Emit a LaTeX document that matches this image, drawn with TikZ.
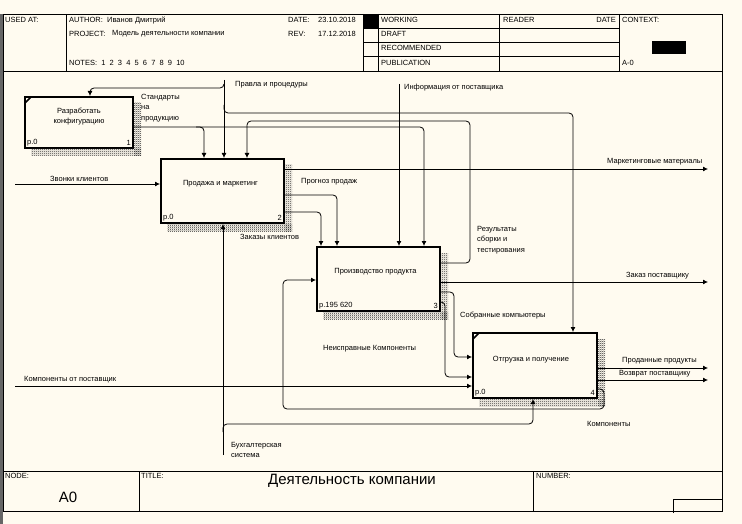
\documentclass[tikz,border=0pt]{standalone}
\usepackage{fontspec}
\setmainfont{Liberation Sans}
\usetikzlibrary{arrows.meta,calc,patterns.meta}
\definecolor{paper}{RGB}{255,251,240}
\tikzdeclarepattern{
  name=idefhatch,
  type=uncolored,
  bounding box={(0pt,0pt) and (2pt,2pt)},
  tile size={(2pt,2pt)},
  code={
    \pgfpathrectangle{\pgfpointorigin}{\pgfpoint{1pt}{1pt}}
    \pgfpathrectangle{\pgfpoint{1pt}{1pt}}{\pgfpoint{1pt}{1pt}}
    \pgfusepath{fill}
  }
}
\newcommand{\boxshadow}[1]{%
  \fill[pattern=idefhatch,pattern color=black!80] ($(#1.south west)+(7,0)$) rectangle ($(#1.south east)+(7,7)$);
  \fill[pattern=idefhatch,pattern color=black!80] ($(#1.north east)+(0,7)$) rectangle ($(#1.south east)+(7,7)$);}

\begin{document}
\begin{tikzpicture}[x=1pt,y=-1pt,font=\fontsize{7.5}{10.5}\selectfont,
  frm/.style={line width=0.8pt},
  fn/.style={draw,line width=2pt,fill=paper,inner sep=0pt},
  tag/.style={inner sep=1pt},
  lbl/.style={anchor=west,inner sep=0pt},
  mlbl/.style={anchor=north west,inner sep=0pt,align=left},
  big/.style={inner sep=0pt,font=\fontsize{15}{18}\selectfont},
  conn/.style={line width=0.8pt,rounded corners=4pt},
  arr/.style={conn,-{Latex[length=5pt,width=5pt]}}]
\useasboundingbox (0,0) rectangle (742,524);
\fill[paper] (0,0) rectangle (742,524);
\fill[black!60] (0,14) rectangle (2.5,524);

% header
\draw[frm] (3,14) rectangle (722,71);
\foreach \x in {66,363,378,499,619} \draw[frm] (\x,14) -- (\x,71);
\foreach \y in {28,42.5,56.5} \draw[frm] (363,\y) -- (619,\y);
\fill (363,14) rectangle (378,28);
\fill (652,41) rectangle (686,54);
\node[lbl] (usedat) at (5,20) {USED AT:};
\node[lbl] (author) at (69,20) {AUTHOR:};
\node[lbl] (authorv) at (107,20) {Иванов Дмитрий};
\node[lbl] (project) at (69,34) {PROJECT:};
\node[lbl] (projectv) at (112,34) {Модель деятельности компании};
\node[lbl] (notes) at (69,63) {NOTES:\ \ 1\ \ 2\ \ 3\ \ 4\ \ 5\ \ 6\ \ 7\ \ 8\ \ 9\ \ 10};
\node[lbl] (date) at (288,20) {DATE:};
\node[lbl] (datev) at (318,20) {23.10.2018};
\node[lbl] (rev) at (288,34) {REV:};
\node[lbl] (revv) at (318,34) {17.12.2018};
\node[lbl] (working) at (381,20) {WORKING};
\node[lbl] (draft) at (381,34) {DRAFT};
\node[lbl] (recom) at (381,48) {RECOMMENDED};
\node[lbl] (publ) at (381,63) {PUBLICATION};
\node[lbl] (reader) at (503,20) {READER};
\node[lbl,anchor=east] (rdate) at (616,20) {DATE};
\node[lbl] (context) at (622,20) {CONTEXT:};
\node[lbl] (ctxnode) at (622,63) {A-0};

% frame and footer
\draw[frm] (3,71) -- (3,511) -- (722,511) -- (722,71);
\draw[frm] (3,471) -- (722,471);
\draw[frm] (139,471) -- (139,511);
\draw[frm] (533,471) -- (533,511);
\draw[frm] (673,513) -- (673,499) -- (722,499);
\node[lbl] (nodelbl) at (5,476) {NODE:};
\node[big] (nodev) at (68,497) {A0};
\node[lbl] (titlelbl) at (141,476) {TITLE:};
\node[big] (titlev) at (352,481) {Деятельность компании};
\node[lbl] (numlbl) at (536,476) {NUMBER:};

% function boxes
\node[fn,minimum width=108pt,minimum height=51pt] (b1) at (79,122.5) {};
\node[fn,minimum width=123pt,minimum height=64pt] (b2) at (222.5,191) {};
\node[fn,minimum width=123pt,minimum height=64pt] (b3) at (378.5,279) {};
\node[fn,minimum width=124pt,minimum height=65pt] (b4) at (535,365.5) {};
\foreach \b in {b1,b2,b3,b4} {\boxshadow{\b}}
\draw[line width=1.5pt] ($(b1.north west)+(1,7)$) -- ($(b1.north west)+(7,1)$);
\draw[line width=1.5pt] ($(b4.north west)+(1,7)$) -- ($(b4.north west)+(7,1)$);
\node[align=center] (b1t) at ($(b1.center)+(0,-6)$) {Разработать\\конфигурацию};
\node (b2t) at ($(b2.center)+(-2,-7)$) {Продажа и маркетинг};
\node (b3t) at ($(b3.center)+(-3,-7)$) {Производство продукта};
\node (b4t) at ($(b4.center)+(-4,-6)$) {Отгрузка и получение};
\node[tag,anchor=south west] (b1p) at ($(b1.south west)+(2,-2)$) {p.0};
\node[tag,anchor=south east] (b1n) at ($(b1.south east)+(-2,-2)$) {1};
\node[tag,anchor=south west] (b2p) at ($(b2.south west)+(2,-2)$) {p.0};
\node[tag,anchor=south east] (b2n) at ($(b2.south east)+(-2,-2)$) {2};
\node[tag,anchor=south west] (b3p) at ($(b3.south west)+(2,-2)$) {p.195 620};
\node[tag,anchor=south east] (b3n) at ($(b3.south east)+(-2,-2)$) {3};
\node[tag,anchor=south west] (b4p) at ($(b4.south west)+(2,-2)$) {p.0};
\node[tag,anchor=south east] (b4n) at ($(b4.south east)+(-2,-2)$) {4};

% free ends
\coordinate (inRules) at (224,80);
\coordinate (inInfo) at (399,84);
\coordinate (inCalls) at (15,184);
\coordinate (inSupp) at (15,386);
\coordinate (inAcct) at (223,455);
\coordinate (outMkt) at (708,169);
\coordinate (outOrd) at (708,282);
\coordinate (outSold) at (708,368);
\coordinate (outRet) at (708,380);

% connectors
\draw[arr] (inRules) -- (inRules |- b2.north);
\draw[arr] (inRules |- 0,84) |- (90,88) -- (90,0 |- b1.north);
\draw[arr] (inRules |- 0,105) |- (573,113) -- (573,0 |- b4.north);
\draw[arr] (b1.east |- 0,127) -| (424,0 |- b3.north);
\draw[arr] (196,127) -| (204,0 |- b2.north);
\draw[arr] (b3.east |- 0,263) -| (470,121) -| (247,0 |- b2.north);
\draw[arr] (inInfo) -- (inInfo |- b3.north);
\draw[arr] (b2.east |- outMkt) -- (outMkt);
\draw[arr] (inCalls) -- (b2.west |- inCalls);
\draw[arr] (b2.east |- 0,195) -| (337,0 |- b3.north);
\draw[arr] (b2.east |- 0,212) -| (321,0 |- b3.north);
\draw[arr] (b3.east |- outOrd) -- (outOrd);
\draw[arr] (b3.east |- 0,292) -| (454,357) -- (b4.west |- 0,357);
\draw[arr] (b3.east |- 0,302) -| (445,377) -- (b4.west |- 0,377);
\draw[arr] (inSupp) -- (b4.west |- inSupp);
\draw[arr] (b4.east |- outSold) -- (outSold);
\draw[arr] (b4.east |- outRet) -- (outRet);
\draw[arr] (b4.east |- 0,389) -| (604,409) -| (283,280) -- (b3.west |- 0,280);
\draw[arr] (inAcct) -- (inAcct |- b2.south);
\draw[arr] (inAcct |- 0,432) |- (533,424) -- (533,0 |- b4.south);

% arrow labels
\node[lbl] (lRules) at (235,85) {Правла и процедуры};
\node[mlbl] (lStd) at (141,94) {Стандарты\\на\\продукцию};
\node[lbl] (lInfo) at (404,88) {Информация от поставщика};
\node[lbl] (lMkt) at (607,162) {Маркетинговые материалы};
\node[lbl] (lCalls) at (50,179) {Звонки клиентов};
\node[lbl] (lFcst) at (301,182) {Прогноз продаж};
\node[lbl] (lOrders) at (240,237) {Заказы клиентов};
\node[mlbl] (lRes) at (477,226) {Результаты\\сборки и\\тестирования};
\node[lbl] (lOrd) at (626,276) {Заказ поставщику};
\node[lbl] (lAsm) at (460,316) {Собранные компьютеры};
\node[lbl] (lDef) at (323,349) {Неисправные Компоненты};
\node[lbl] (lSold) at (622,361) {Проданные продукты};
\node[lbl] (lRet) at (619,374) {Возврат поставщику};
\node[lbl] (lSupp) at (24,380) {Компоненты от поставщик};
\node[lbl] (lComp) at (587,424) {Компоненты};
\node[mlbl] (lAcct) at (231,442) {Бухгалтерская\\система};
\end{tikzpicture}
\end{document}
